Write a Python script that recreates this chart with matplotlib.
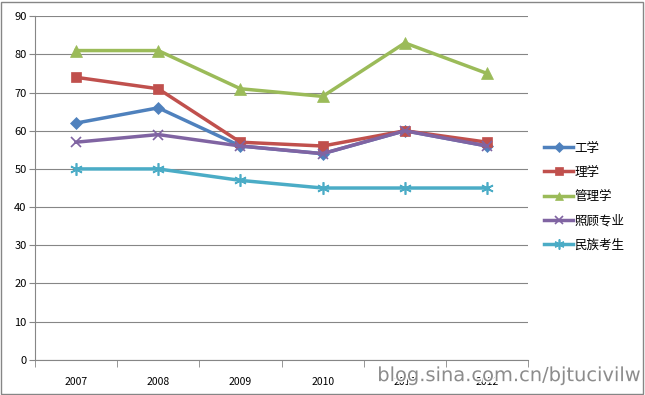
import numpy as np
import matplotlib
matplotlib.use('Agg')
import matplotlib.pyplot as plt
import matplotlib.patheffects as pe
from matplotlib.patches import Rectangle

plt.rcParams['font.family'] = ['Noto Sans CJK SC', 'DejaVu Sans']

years = ['2007', '2008', '2009', '2010', '2011', '2012']
gongxue = [62, 66, 56, 54, 60, 56]
lixue = [74, 71, 57, 56, 60, 57]
guanlixue = [81, 81, 71, 69, 83, 75]
zhaogu = [57, 59, 56, 54, 60, 56]
minzu = [50, 50, 47, 45, 45, 45]

names = ['工学', '理学', '管理学', '照顾专业', '民族考生']
series = [gongxue, lixue, guanlixue, zhaogu, minzu]
colors = ['#4F81BD', '#C0504D', '#9BBB59', '#8064A2', '#4BACC6']
markers = ['D', 's', '^', 'x', (6, 2, 0)]
msizes = [6, 7, 8, 7, 9]

fig = plt.figure(figsize=(6.45, 3.95), dpi=100)
ax = fig.add_axes([0.054, 0.089, 0.765, 0.870])

x = np.arange(len(years))
for s, name, c, m, ms in zip(series, names, colors, markers, msizes):
    ax.plot(x, s, color=c, lw=2.5, marker=m, markersize=ms, label=name,
            markeredgewidth=1.2 if m in ('x', (6, 2, 0)) else 0.5,
            markeredgecolor=c, zorder=3)

ax.set_xlim(-0.5, len(years) - 0.5)
ax.set_ylim(0, 90)
ax.set_yticks(range(0, 91, 10))
ax.set_xticks(x)
ax.set_xticklabels(years)
ax.set_xticks(np.arange(-0.5, len(years), 1), minor=True)
ax.tick_params(axis='x', which='major', length=0, labelsize=7.5, pad=12)
ax.tick_params(axis='x', which='minor', length=5, color='#868686', direction='out')
ax.tick_params(axis='y', length=4, color='#868686', labelsize=8, pad=2)
ax.yaxis.grid(True, color='#868686', lw=0.8)
ax.set_axisbelow(True)
for side in ['top', 'right']:
    ax.spines[side].set_visible(False)
for side in ['left', 'bottom']:
    ax.spines[side].set_color('#868686')

leg = ax.legend(loc='center left', bbox_to_anchor=(1.01, 0.475), frameon=False,
                fontsize=9, handlelength=2.3, handletextpad=0.1, labelspacing=0.9,
                markerscale=0.8)

fig.patches.append(Rectangle((0.002, 0.003), 0.995, 0.993, transform=fig.transFigure,
                             fill=False, edgecolor='#868686', lw=1))

# watermark from the source image
fig.text(0.995, 0.025, 'blog.sina.com.cn/bjtucivilw', ha='right', va='bottom',
         fontsize=14, color='#8c8c8c', family='DejaVu Sans',
         path_effects=[pe.withStroke(linewidth=2, foreground='white')])

fig.savefig('out.png', dpi=100)
